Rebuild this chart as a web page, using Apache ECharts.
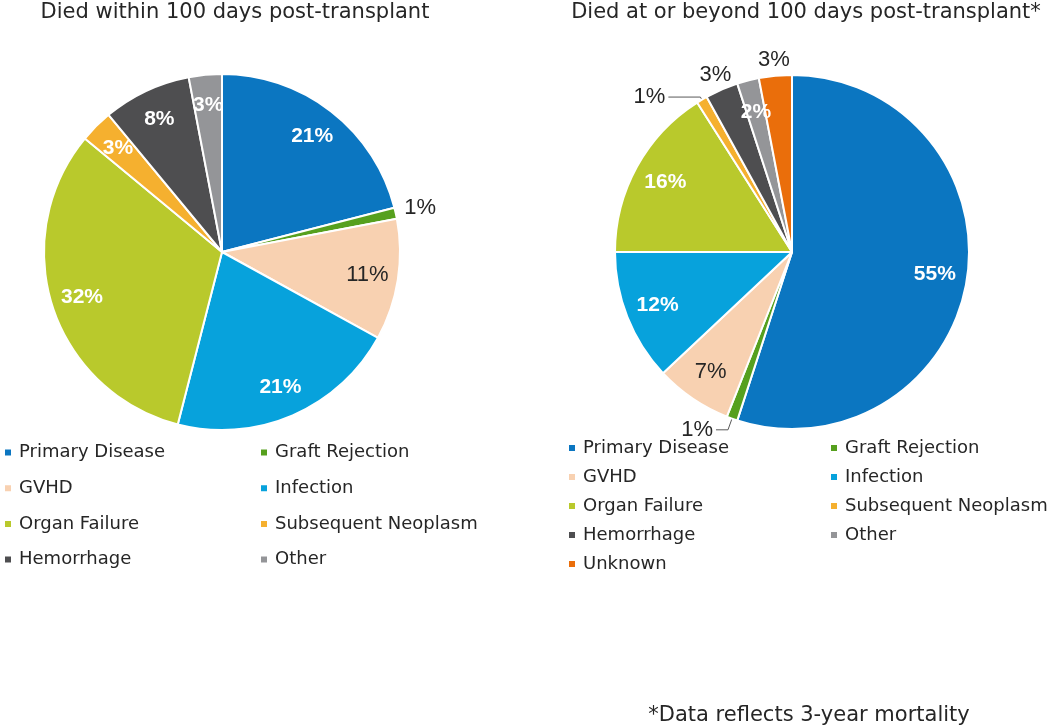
<!DOCTYPE html>
<html><head><meta charset="utf-8">
<style>html,body{margin:0;padding:0;background:#fff}#c{width:1050px;height:727px}</style>
<script src="https://cdn.jsdelivr.net/npm/echarts@6/dist/echarts.min.js"></script>
</head><body><div id="c"></div>
<script>
// ---- data ----
const categories = ['Primary Disease','Graft Rejection','GVHD','Infection','Organ Failure','Subsequent Neoplasm','Hemorrhage','Other','Unknown'];
const within100Values = [21, 1, 11, 21, 32, 3, 8, 3];
const beyond100Values = [55, 1, 7, 12, 16, 1, 3, 2, 3];
const leftTitle = 'Died within 100 days post-transplant';
const rightTitle = 'Died at or beyond 100 days post-transplant*';
const footnote = '*Data reflects 3-year mortality';

// ---- styles ----
const colors = ['#0B76C1','#56A01E','#F8D1B1','#07A2DC','#B9C92C','#F5B02F','#4E4E50','#949598','#EA6E0B'];
const leftLabelKinds  = ['in','far','dark','in','in','in','in','in'];
const rightLabelKinds = ['in','line','dark','in','in','line','far','in','far'];
const rightLineLens = {1: [12, 12], 5: [3, 32]};
const LABEL_FONT = '"Liberation Sans", Arial, sans-serif';
const TEXT_FONT = '"DejaVu Sans", sans-serif';
const TEXT_COLOR = '#262626';

function pct(p) { return p.value + '%'; }

function mainSeries(values, center, r, kinds, lineLens) {
  return {
    type: 'pie', center: center, radius: r, startAngle: 90, clockwise: true,
    avoidLabelOverlap: false, silent: true, z: 2,
    itemStyle: {borderColor: '#fff', borderWidth: 2},
    label: {show: false}, labelLine: {show: false},
    emphasis: {disabled: true},
    data: values.map(function (v, i) {
      const d = {name: categories[i], value: v, itemStyle: {color: colors[i]}};
      if (kinds[i] === 'line') {
        d.label = {show: true, position: 'outside', formatter: pct, color: TEXT_COLOR,
                   fontSize: 22, fontFamily: LABEL_FONT, distanceToLabelLine: 3};
        d.labelLine = {show: true, length: lineLens[i][0], length2: lineLens[i][1],
                       lineStyle: {color: '#595959', width: 1}};
      }
      return d;
    })
  };
}

function labelSeries(values, center, radius, kinds, showKinds) {
  return {
    type: 'pie', center: center, radius: radius, startAngle: 90, clockwise: true,
    avoidLabelOverlap: false, silent: true, z: 3,
    itemStyle: {color: 'rgba(0,0,0,0)', borderWidth: 0},
    labelLine: {show: false},
    emphasis: {disabled: true},
    data: values.map(function (v, i) {
      const k = kinds[i];
      const show = showKinds.indexOf(k) >= 0;
      const white = k === 'in';
      return {
        name: categories[i], value: v,
        itemStyle: {color: 'rgba(0,0,0,0)'},
        label: {show: show, position: 'inside', formatter: pct,
                color: white ? '#fff' : TEXT_COLOR,
                fontWeight: white ? 'bold' : 'normal',
                fontSize: white ? 21 : 22, fontFamily: LABEL_FONT}
      };
    })
  };
}

const LC = [222, 252], LR = 178;
const RC = [792, 252], RR = 177;

function legend(left, top, gap, names) {
  return {
    left: left, top: top, orient: 'vertical', padding: 0,
    itemWidth: 8, itemHeight: 8, itemGap: gap, icon: 'rect',
    selectedMode: false,
    textStyle: {fontFamily: TEXT_FONT, fontSize: 18, lineHeight: 20, color: TEXT_COLOR, padding: [0, 0, 0, 2]},
    data: names
  };
}

const col1Left = [categories[0], categories[2], categories[4], categories[6]];
const col2 = [categories[1], categories[3], categories[5], categories[7]];
const col1Right = col1Left.concat([categories[8]]);

const option = {
  animation: false,
  backgroundColor: '#fff',
  legend: [
    legend(3, 442.5, 15.7, col1Left),
    legend(259, 442.5, 15.7, col2),
    legend(567, 438, 9, col1Right),
    legend(829, 438, 9, col2)
  ],
  graphic: [
    {type: 'text', x: 235, y: 13, style: {text: leftTitle, align: 'center', verticalAlign: 'middle',
      font: '21px ' + TEXT_FONT, fill: TEXT_COLOR}},
    {type: 'text', x: 806, y: 13, style: {text: rightTitle, align: 'center', verticalAlign: 'middle',
      font: '21px ' + TEXT_FONT, fill: TEXT_COLOR}},
    {type: 'text', x: 809, y: 716, style: {text: footnote, align: 'center', verticalAlign: 'middle',
      font: '21px ' + TEXT_FONT, fill: TEXT_COLOR}}
  ],
  series: [
    mainSeries(within100Values, LC, LR, leftLabelKinds, {}),
    mainSeries(beyond100Values, RC, RR, rightLabelKinds, rightLineLens),
    labelSeries(within100Values, LC, [LR * 0.62, LR], leftLabelKinds, ['in', 'dark']),
    labelSeries(beyond100Values, RC, [RR * 0.6, RR], rightLabelKinds, ['in', 'dark']),
    labelSeries(within100Values, LC, [LR, LR + 44], leftLabelKinds, ['far']),
    labelSeries(beyond100Values, RC, [RR, RR + 26], rightLabelKinds, ['far'])
  ]
};

const chart = echarts.init(document.getElementById('c'), null, {renderer: 'canvas'});
chart.setOption(option);
</script>
</body></html>
